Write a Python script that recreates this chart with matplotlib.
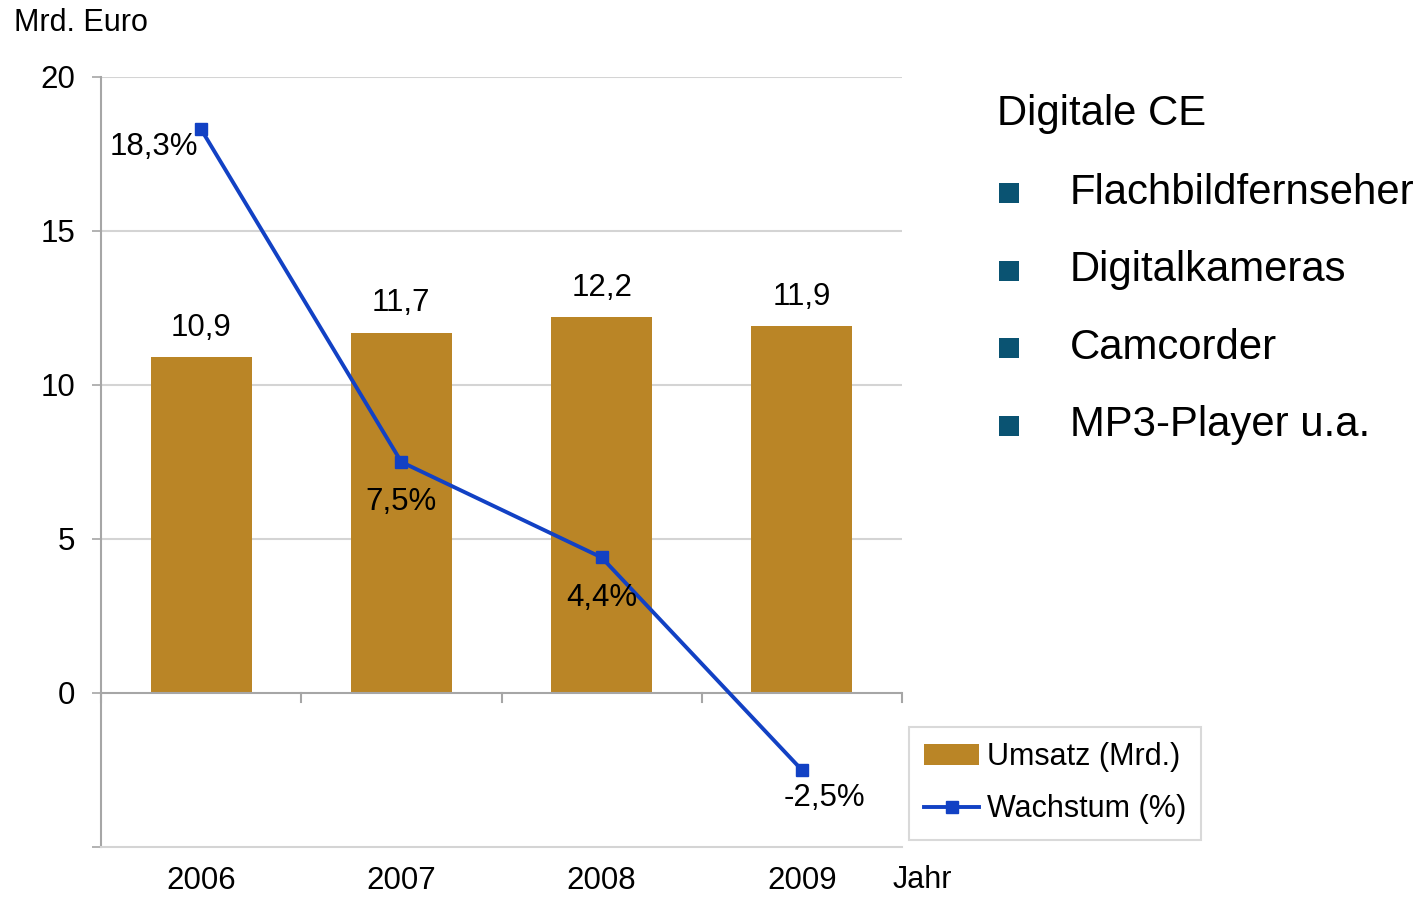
import numpy as np
import matplotlib
matplotlib.use("Agg")
import matplotlib.pyplot as plt
from matplotlib.patches import Patch
from matplotlib.lines import Line2D

plt.rcParams['font.family'] = ['Liberation Sans', 'DejaVu Sans']

years = ["2006", "2007", "2008", "2009"]
umsatz = [10.9, 11.7, 12.2, 11.9]
wachstum = [18.3, 7.5, 4.4, -2.5]
umsatz_labels = ["10,9", "11,7", "12,2", "11,9"]
wachstum_labels = ["18,3%", "7,5%", "4,4%", "-2,5%"]
ce_title = "Digitale CE"
ce_items = ["Flachbildfernseher", "Digitalkameras", "Camcorder", "MP3-Player u.a."]

bar_color = "#BA8526"
line_color = "#1241C4"
grid_color = "#D4D4D4"
axis_color = "#A6A6A6"
bullet_color = "#0A5372"

W, H = 1423, 899
fig = plt.figure(figsize=(W / 100, H / 100), dpi=100)
ax = fig.add_axes([101 / W, (H - 847) / H, 801 / W, 770 / H])

x = np.arange(len(years))
ax.set_xlim(-0.5, len(years) - 0.5)
ax.set_ylim(-5, 20)

yt = [-5, 0, 5, 10, 15, 20]
for v in [5, 10, 15, 20]:
    ax.axhline(v, color=grid_color, lw=1.5, zorder=0)

ax.bar(x, umsatz, width=0.505, color=bar_color, zorder=2)

ax.axhline(0, color=axis_color, lw=1.5, zorder=3)
for b in np.arange(len(years) + 1) - 0.5:
    ax.plot([b, b], [0, -0.3], color=axis_color, lw=1.5, zorder=3, clip_on=False)

lw_line, ms = 2.8, 8.5
ax.plot(x, wachstum, color=line_color, lw=lw_line, marker='s', markersize=ms, zorder=4)

fs = 22.5
for xi, v, lab in zip(x, umsatz, umsatz_labels):
    ax.annotate(lab, (xi, v), xytext=(0, 21), textcoords='offset points',
                ha='center', va='center', fontsize=fs, zorder=5)

offsets = [(-34, -13), (0, -29), (0, -29), (16, -20)]
for xi, v, lab, off in zip(x, wachstum, wachstum_labels, offsets):
    ax.annotate(lab, (xi, v), xytext=off, textcoords='offset points',
                ha='center', va='center', fontsize=fs, zorder=5)

for s in ['top', 'right']:
    ax.spines[s].set_visible(False)
ax.spines['left'].set_color(axis_color)
ax.spines['left'].set_linewidth(1.5)
ax.spines['bottom'].set_color(grid_color)
ax.spines['bottom'].set_linewidth(1.5)

ax.set_yticks(yt)
ax.set_yticklabels(["" if v == -5 else str(v) for v in yt], fontsize=fs)
ax.tick_params(axis='y', length=6.5, width=1.2, color=axis_color, pad=12)
ax.set_xticks(x)
ax.set_xticklabels(years, fontsize=fs)
ax.tick_params(axis='x', length=0, pad=14)

fig.text(14 / W, 1 - 23 / H, "Mrd. Euro", fontsize=22, ha='left', va='center')
fig.text(893 / W, 1 - 880 / H, "Jahr", fontsize=22, ha='left', va='center')

handles = [Patch(facecolor=bar_color, edgecolor='none'),
           Line2D([], [], color=line_color, lw=lw_line, marker='s', markersize=ms)]
leg = fig.legend(handles, ["Umsatz (Mrd.)", "Wachstum (%)"], loc='upper left',
                 bbox_to_anchor=(909 / W, 1 - 727 / H), fontsize=22,
                 frameon=True, fancybox=False, edgecolor="#D0D0D0",
                 handlelength=1.8, handleheight=0.7, handletextpad=0.25,
                 borderpad=0.5, labelspacing=0.72, borderaxespad=0)
leg.get_frame().set_linewidth(1.5)

fig.text(997 / W, 1 - 114 / H, ce_title, fontsize=30.2, ha='left', va='center')
y0, dy = 193, 77.5
for i, item in enumerate(ce_items):
    yc = y0 + i * dy
    fig.text(1070 / W, 1 - yc / H, item, fontsize=30.2, ha='left', va='center')
    fig.patches.append(plt.Rectangle((999 / W, 1 - (yc + 10) / H), 20 / W, 20 / H,
                                     transform=fig.transFigure, facecolor=bullet_color,
                                     edgecolor='none'))

fig.savefig("out.png", dpi=100)
